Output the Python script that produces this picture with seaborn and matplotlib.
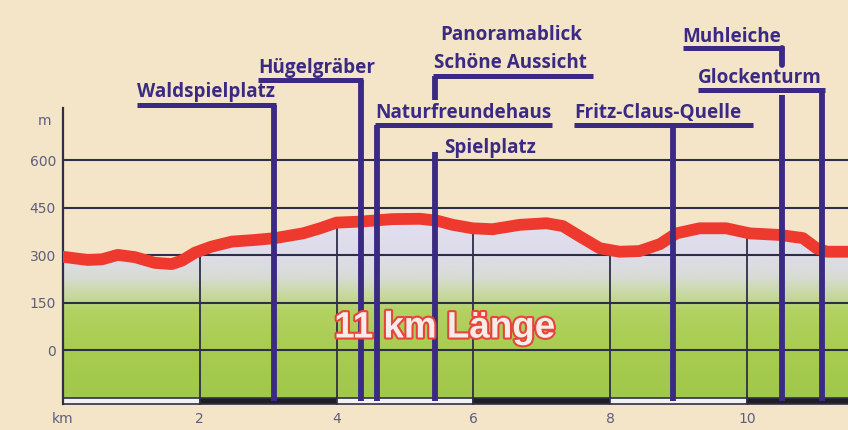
import numpy as np
import matplotlib
matplotlib.use("Agg")
import matplotlib.pyplot as plt
import matplotlib.patheffects as pe
from matplotlib.colors import LinearSegmentedColormap
import seaborn as sns

# elevation profile of the trail (km, metres)
profile_km = [0.0, 0.36, 0.57, 0.80, 1.05, 1.34, 1.59, 1.74, 1.93, 2.17, 2.47, 2.80,
              3.10, 3.51, 3.76, 4.00, 4.34, 4.82, 5.22, 5.47, 5.70, 5.99, 6.28, 6.68,
              7.07, 7.31, 7.56, 7.85, 8.14, 8.43, 8.73, 8.97, 9.31, 9.70, 10.04, 10.48,
              10.82, 11.02, 11.17, 11.5]
profile_m = [295, 285, 287, 301, 294, 276, 272, 283, 308, 327, 343, 348,
             354, 369, 385, 403, 406, 414, 415, 409, 396, 385, 382, 396,
             401, 392, 359, 322, 311, 313, 335, 369, 385, 385, 369, 364,
             354, 322, 311, 311]

# points of interest along the trail
poi_names = ["Waldspielplatz", "Hügelgräber", "Naturfreundehaus", "Spielplatz",
             "Schöne Aussicht", "Fritz-Claus-Quelle", "Muhleiche", "Glockenturm"]
poi_km = [3.09, 4.36, 4.59, 5.44, 5.44, 8.92, 10.51, 11.10]

# axis ticks
y_ticks = [0, 150, 300, 450, 600]
x_ticks = [0, 2, 4, 6, 8, 10]
x_labels = ["km", "2", "4", "6", "8", "10"]
scale_starts = [0, 2, 4, 6, 8, 10]   # km scale bar, alternating white / black

sns.set_style("white")
plt.rcParams['font.family'] = ['DejaVu Sans']

bg = "#f4e5c8"
grid_c = "#2e2e48"
purple = "#3b2a84"
tick_c = "#5e5e7c"

fig = plt.figure(figsize=(8.48, 4.30), dpi=100, facecolor=bg)
ax = fig.add_axes([63 / 848, 26 / 430, 1 - 63 / 848, (404 - 108) / 430])
ax.set_facecolor(bg)

# gradient fill under the profile (lavender on top, green below)
cmap = LinearSegmentedColormap.from_list("hill", [
    (0.0, "#a0c84a"), (0.26, "#a8cc50"), (0.48, "#b2d262"),
    (0.55, "#c6d89a"), (0.66, "#d8dcd6"), (0.78, "#dedcea"), (1.0, "#e2e0f0")])
grad = np.linspace(0, 1, 256).reshape(-1, 1)
im = ax.imshow(grad, extent=[0, 11.6, -150, 430], origin="lower", aspect="auto",
               cmap=cmap, zorder=1)
poly = ax.fill_between(profile_km, -150, profile_m, color="none", lw=0)
im.set_clip_path(poly.get_paths()[0], transform=ax.transData)

# grid: horizontal lines everywhere, vertical ones only under the profile
ax.hlines(y_ticks, 0, 11.6, color=grid_c, lw=1.5, zorder=3)
for x in x_ticks[1:]:
    ax.vlines(x, -150, np.interp(x, profile_km, profile_m), color=grid_c, lw=1.3, zorder=3)

# km scale bar at the bottom
ax.bar(scale_starts, 20, width=2, bottom=-170, align="edge",
       color=["#f2f2f6", "#1e1e28"] * 3, edgecolor=grid_c, lw=1.2, zorder=4, clip_on=False)

# profile line
sns.lineplot(x=profile_km, y=profile_m, ax=ax, color="#ee3a2e", lw=8.5, zorder=6,
             solid_capstyle="round", solid_joinstyle="round", sort=False)

# labels with leader lines
lab_font = dict(family="Open Sans", weight="bold", size=13.6, color=purple)
lw_h, lw_v = 3.6, 4.2
bottom = -162


def leader(name, x0, base, ul, x1, top=None):
    k = poi_km[poi_names.index(name)]
    ax.text(x0, base, name, ha="left", va="baseline", zorder=8, clip_on=False, **lab_font)
    ax.plot([x0, x1], [ul, ul], color=purple, lw=lw_h, zorder=7, clip_on=False,
            solid_capstyle="butt")
    ax.plot([k, k], [ul if top is None else top, bottom], color=purple, lw=lw_v,
            zorder=7, clip_on=False, solid_capstyle="butt")


leader("Waldspielplatz", 1.08, 801, 774, 3.12)
leader("Hügelgräber", 2.85, 877, 855, 4.39)
leader("Naturfreundehaus", 4.57, 734, 712, 7.15)
leader("Fritz-Claus-Quelle", 7.48, 734, 712, 10.09)
leader("Glockenturm", 9.28, 845, 823, 11.14)
leader("Muhleiche", 9.06, 975, 956, 10.54, top=807)
k = poi_km[poi_names.index("Muhleiche")]
ax.plot([k, k], [956, 902], color=purple, lw=lw_v, zorder=7, clip_on=False)

# Panoramablick / Schöne Aussicht with short stub, Spielplatz on its own leader
ax.text(6.55, 981, "Panoramablick", ha="center", va="baseline", zorder=8, clip_on=False, **lab_font)
ax.text(6.55, 892, "Schöne Aussicht", ha="center", va="baseline", zorder=8, clip_on=False, **lab_font)
k = poi_km[poi_names.index("Schöne Aussicht")]
ax.plot([k - 0.03, 7.75], [867, 867], color=purple, lw=lw_h, zorder=7, clip_on=False,
        solid_capstyle="butt")
ax.plot([k, k], [867, 791], color=purple, lw=lw_v, zorder=7, clip_on=False, solid_capstyle="butt")
ax.text(5.57, 623, "Spielplatz", ha="left", va="baseline", zorder=8, clip_on=False, **lab_font)
ax.plot([k, k], [627, bottom], color=purple, lw=lw_v, zorder=7, clip_on=False, solid_capstyle="butt")

# trail length
ax.text(5.58, 70, "11 km Länge", ha="center", va="center", zorder=9,
        family="Liberation Sans", weight="bold", size=26.5, color="#f7ecea",
        path_effects=[pe.Stroke(linewidth=3, foreground="#e8453a"), pe.Normal()])

# axes
ax.set_xlim(0, 11.48)
ax.set_ylim(-170, 765)
ax.set_yticks(y_ticks + [730], [str(v) for v in y_ticks] + ["m "])
ax.set_xticks(x_ticks, x_labels)
ax.tick_params(axis="y", length=0, pad=5, labelsize=10, labelcolor=tick_c)
ax.tick_params(axis="x", length=0, pad=6, labelsize=10, labelcolor=tick_c)
for s in ["top", "right", "bottom"]:
    ax.spines[s].set_visible(False)
ax.spines["left"].set_color(grid_c)
ax.spines["left"].set_linewidth(1.6)
ax.spines["left"].set_zorder(5)

fig.savefig("out.png", dpi=100, facecolor=bg)
